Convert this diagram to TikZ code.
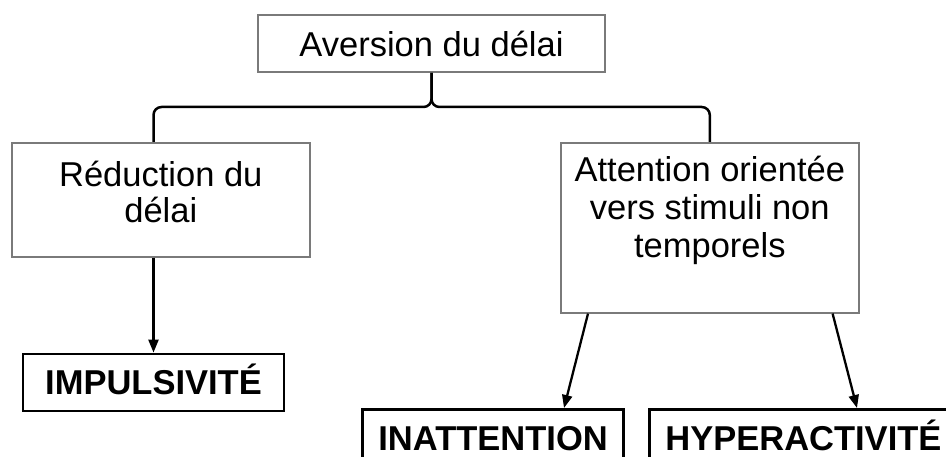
\documentclass[tikz,border=0pt]{standalone}
\usepackage{fontspec}
\setmainfont{Liberation Sans}
\usepackage{tikz}
\usetikzlibrary{arrows.meta,calc}
\definecolor{boxgray}{HTML}{7A7A7A}
\tikzset{
  delaybox/.style={draw=boxgray,line width=1.6pt,fill=white,inner sep=0pt,font=\fontsize{34.5}{38}\selectfont},
  delaytext/.style={align=center,inner sep=0pt,font=\fontsize{34.5}{38}\selectfont},
  outcomebox/.style={draw=black,line width=2.8pt,fill=white,minimum width=261pt,minimum height=57pt,inner xsep=16pt,text height=24.8pt,text depth=0pt,font=\bfseries\fontsize{34.5}{38}\selectfont},
  delayflow/.style={-{Triangle[length=13pt,width=10pt]},line width=2.3pt,draw=black},
  delaybrace/.style={line width=2.5pt,draw=black,rounded corners=8pt}
}
\begin{document}
\begin{tikzpicture}[x=1pt,y=-1pt]
  \clip (0,0) rectangle (946,457);
  \node[delaybox,minimum width=347pt,minimum height=57pt] (aversion) at (431.5,43.5) {Aversion du délai};
  \node[delaybox,minimum width=298pt,minimum height=114pt,anchor=north west,
    label={[delaytext,name=reductxt,font=\fontsize{34.5}{36}\selectfont,anchor=north,yshift=-19pt]north:{Réduction du\\délai}}] (reduc) at (11,142) {};
  \node[delaybox,minimum width=298pt,minimum height=170pt,anchor=north west,
    label={[delaytext,name=attntxt,anchor=north,yshift=-14pt]north:{Attention orientée\\vers stimuli non\\temporels}}] (attn) at (560,142) {};
  \node[outcomebox] (impuls) at (153.5,382.5) {IMPULSIVITÉ};
  \node[outcomebox,anchor=north west] (inatt) at (361,408) {INATTENTION};
  \node[outcomebox,anchor=north west] (hyper) at (648,408) {HYPERACTIVITÉ};
  \coordinate (bracemid) at (431.5,107);
  \draw[delaybrace] (impuls.north |- reduc.north) |- (bracemid) -- (aversion.south);
  \draw[delaybrace] (attn.north) |- (bracemid) -- (aversion.south);
  \draw[delayflow] (reduc.south -| impuls.north) -- (impuls.north);
  \draw[delayflow] ([xshift=28pt]attn.south west) -- ([xshift=203pt]inatt.north west);
  \draw[delayflow] ([xshift=-27pt]attn.south east) -- ([xshift=209pt]hyper.north west);
\end{tikzpicture}
\end{document}
